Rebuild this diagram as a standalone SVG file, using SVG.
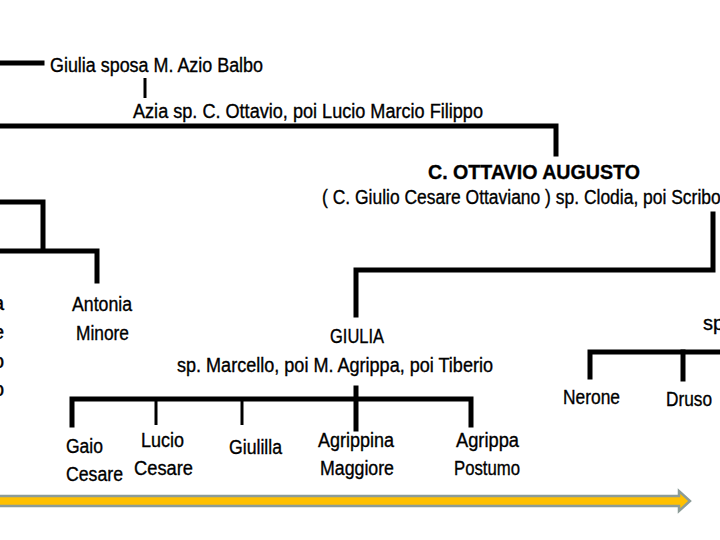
<svg xmlns="http://www.w3.org/2000/svg" width="720" height="540" viewBox="0 0 720 540">
<style>
text{font-family:"Liberation Sans",Arial,sans-serif;font-size:20px;fill:#000;stroke:#000;stroke-width:0.35}
.b{font-weight:bold;font-size:21px}
.ln{stroke:#000;stroke-width:5;fill:none;stroke-linecap:square}
.th{stroke:#000;stroke-width:3;fill:none}
</style>
<rect width="720" height="540" fill="#fff"/>
<g id="connectors">
<line class="ln" x1="0" y1="63" x2="42" y2="63"/>
<line class="th" x1="145" y1="78" x2="145" y2="98"/>
<polyline class="ln" points="0,126 556,126 556,154"/>
<polyline class="ln" points="0,202 43,202 43,250"/>
<polyline class="ln" points="0,251 97,251 97,281"/>
<polyline class="ln" points="713,214 713,270 356,270 356,315"/>
<line class="ln" x1="356" y1="388" x2="356" y2="429"/>
<polyline class="ln" points="72,425 72,399 471,399 471,425"/>
<line class="th" x1="156" y1="399" x2="156" y2="425"/>
<line class="th" x1="242" y1="399" x2="242" y2="425"/>
<polyline class="ln" points="590,377 590,352 720,352"/>
<line class="ln" x1="683" y1="352" x2="683" y2="379"/>
</g>
<g id="giulia-balbo"><text x="50" y="72" textLength="213" lengthAdjust="spacingAndGlyphs">Giulia sposa M. Azio Balbo</text></g>
<g id="azia"><text x="133" y="118" textLength="350" lengthAdjust="spacingAndGlyphs">Azia  sp. C. Ottavio, poi Lucio Marcio Filippo</text></g>
<g id="augusto">
<text class="b" x="428" y="179" textLength="212" lengthAdjust="spacingAndGlyphs">C. OTTAVIO AUGUSTO</text>
<text x="322" y="204" textLength="422" lengthAdjust="spacingAndGlyphs">( C. Giulio Cesare Ottaviano ) sp. Clodia, poi Scribonia</text>
</g>
<g id="left-fragments">
<text x="-7" y="310">a</text>
<text x="-7" y="339">e</text>
<text x="-7" y="368">o</text>
<text x="-7" y="396">o</text>
</g>
<g id="antonia-minore">
<text x="72" y="311" textLength="60" lengthAdjust="spacingAndGlyphs">Antonia</text>
<text x="76" y="340" textLength="53" lengthAdjust="spacingAndGlyphs">Minore</text>
</g>
<g id="giulia">
<text x="330" y="343" textLength="54" lengthAdjust="spacingAndGlyphs">GIULIA</text>
<text x="177" y="372" textLength="316" lengthAdjust="spacingAndGlyphs">sp. Marcello, poi  M. Agrippa, poi Tiberio</text>
</g>
<g id="sp-right"><text x="703" y="330">sp</text></g>
<g id="nerone"><text x="563" y="404" textLength="57" lengthAdjust="spacingAndGlyphs">Nerone</text></g>
<g id="druso"><text x="666" y="406" textLength="46" lengthAdjust="spacingAndGlyphs">Druso</text></g>
<g id="gaio-cesare">
<text x="66" y="453" textLength="37" lengthAdjust="spacingAndGlyphs">Gaio</text>
<text x="66" y="481" textLength="57" lengthAdjust="spacingAndGlyphs">Cesare</text>
</g>
<g id="lucio-cesare">
<text x="141" y="447" textLength="43" lengthAdjust="spacingAndGlyphs">Lucio</text>
<text x="134" y="475" textLength="59" lengthAdjust="spacingAndGlyphs">Cesare</text>
</g>
<g id="giulilla"><text x="229" y="454" textLength="53" lengthAdjust="spacingAndGlyphs">Giulilla</text></g>
<g id="agrippina">
<text x="318" y="447" textLength="76" lengthAdjust="spacingAndGlyphs">Agrippina</text>
<text x="320" y="475" textLength="74" lengthAdjust="spacingAndGlyphs">Maggiore</text>
</g>
<g id="agrippa-postumo">
<text x="456" y="447" textLength="63" lengthAdjust="spacingAndGlyphs">Agrippa</text>
<text x="454" y="475" textLength="66" lengthAdjust="spacingAndGlyphs">Postumo</text>
</g>
<g id="timeline">
<path d="M-5,496 L679,496 L679,491 L690,501 L679,511 L679,506 L-5,506 Z" fill="#FFC000" stroke="#8C9C98" stroke-width="2.5" stroke-linejoin="miter"/>
</g>
</svg>
